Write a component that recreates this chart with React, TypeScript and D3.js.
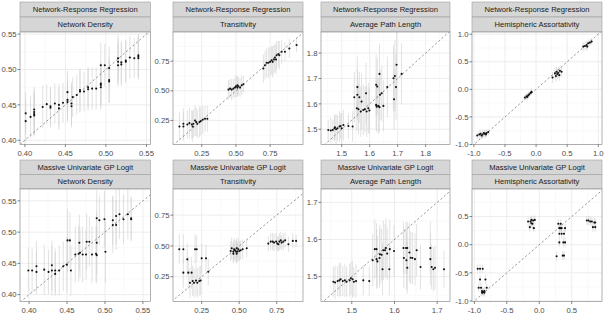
import React from "react";
import * as d3 from "d3";

// [x, y, half-width of interval]
type Pt = [number, number, number];

const methods = ["Network-Response Regression", "Massive Univariate GP Logit"];
const metrics = ["Network Density", "Transitivity", "Average Path Length", "Hemispheric Assortativity"];

const densityTicks = [0.4, 0.45, 0.5, 0.55];
const transTicks = [0.25, 0.5, 0.75];
const aplTicksTop = [1.5, 1.6, 1.7, 1.8];
const aplTicksBottom = [1.5, 1.6, 1.7];
const assortTicksTop = [-1, -0.5, 0, 0.5, 1];
const assortTicksBottom = [-1, -0.5, 0, 0.5];

const ndNrr: Pt[] = [
  [0.401, 0.438, 0.03], [0.401, 0.427, 0.03], [0.407, 0.433, 0.03], [0.4115, 0.4435, 0.032],
  [0.4115, 0.44, 0.032], [0.4115, 0.437, 0.03], [0.4115, 0.435, 0.03], [0.422, 0.447, 0.03],
  [0.427, 0.451, 0.028], [0.4316, 0.448, 0.028], [0.4316, 0.446, 0.028], [0.437, 0.452, 0.028],
  [0.442, 0.45, 0.03], [0.442, 0.445, 0.03], [0.447, 0.453, 0.028], [0.4526, 0.457, 0.03],
  [0.4526, 0.454, 0.028], [0.4526, 0.468, 0.03], [0.4575, 0.452, 0.03], [0.4575, 0.448, 0.03],
  [0.459, 0.461, 0.028], [0.464, 0.464, 0.028], [0.468, 0.469, 0.03], [0.468, 0.471, 0.03],
  [0.473, 0.469, 0.028], [0.478, 0.472, 0.03], [0.478, 0.475, 0.028], [0.483, 0.473, 0.03],
  [0.488, 0.473, 0.03], [0.4937, 0.475, 0.032], [0.4937, 0.478, 0.03], [0.4937, 0.48, 0.03],
  [0.4937, 0.506, 0.032], [0.4986, 0.506, 0.03], [0.504, 0.502, 0.03], [0.504, 0.485, 0.032],
  [0.504, 0.483, 0.03], [0.515, 0.511, 0.032], [0.515, 0.506, 0.03], [0.515, 0.516, 0.032],
  [0.519, 0.51, 0.03], [0.519, 0.507, 0.03], [0.5245, 0.511, 0.03], [0.5245, 0.5125, 0.03],
  [0.5295, 0.517, 0.03], [0.535, 0.516, 0.028], [0.54, 0.518, 0.03], [0.54, 0.52, 0.03],
  [0.54, 0.516, 0.03],
];

const trNrr: Pt[] = [
  [0.087, 0.199, 0.12], [0.116, 0.199, 0.12], [0.116, 0.222, 0.13], [0.145, 0.216, 0.12],
  [0.16, 0.227, 0.13], [0.177, 0.216, 0.12], [0.184, 0.199, 0.13], [0.189, 0.222, 0.12],
  [0.201, 0.25, 0.13], [0.209, 0.236, 0.12], [0.218, 0.222, 0.12], [0.233, 0.236, 0.13],
  [0.243, 0.244, 0.12], [0.257, 0.256, 0.12], [0.274, 0.264, 0.11], [0.291, 0.264, 0.11],
  [0.445, 0.51, 0.08], [0.457, 0.518, 0.08], [0.469, 0.51, 0.09], [0.481, 0.518, 0.08],
  [0.493, 0.527, 0.08], [0.5, 0.538, 0.09], [0.51, 0.527, 0.08], [0.518, 0.538, 0.08],
  [0.53, 0.527, 0.08], [0.542, 0.547, 0.08], [0.554, 0.555, 0.07], [0.51, 0.547, 0.08],
  [0.7, 0.688, 0.12], [0.712, 0.716, 0.12], [0.724, 0.736, 0.12], [0.737, 0.736, 0.13],
  [0.749, 0.744, 0.12], [0.761, 0.758, 0.12], [0.768, 0.744, 0.13], [0.778, 0.764, 0.12],
  [0.785, 0.781, 0.12], [0.793, 0.764, 0.12], [0.797, 0.8, 0.12], [0.81, 0.81, 0.11],
  [0.817, 0.8, 0.12], [0.834, 0.829, 0.1], [0.858, 0.829, 0.08], [0.89, 0.857, 0.08],
  [0.943, 0.886, 0.06],
];

const aplNrr: Pt[] = [
  [1.452, 1.497, 0.04], [1.461, 1.495, 0.05], [1.468, 1.497, 0.04], [1.474, 1.504, 0.05],
  [1.476, 1.508, 0.05], [1.48, 1.5, 0.06], [1.485, 1.504, 0.05], [1.492, 1.511, 0.06],
  [1.496, 1.513, 0.05], [1.5, 1.504, 0.06], [1.506, 1.517, 0.06], [1.524, 1.513, 0.05],
  [1.539, 1.511, 0.06],
  [1.545, 1.626, 0.1], [1.556, 1.666, 0.12], [1.556, 1.636, 0.1], [1.563, 1.626, 0.1],
  [1.554, 1.583, 0.09], [1.56, 1.579, 0.1], [1.571, 1.609, 0.11], [1.568, 1.57, 0.1],
  [1.577, 1.576, 0.1], [1.583, 1.579, 0.09], [1.587, 1.642, 0.12], [1.589, 1.57, 0.1],
  [1.595, 1.583, 0.1], [1.599, 1.574, 0.09],
  [1.623, 1.675, 0.12], [1.627, 1.668, 0.11], [1.635, 1.718, 0.12], [1.637, 1.636, 0.1],
  [1.643, 1.642, 0.11], [1.623, 1.596, 0.1], [1.625, 1.589, 0.1], [1.631, 1.592, 0.11],
  [1.635, 1.587, 0.1], [1.649, 1.592, 0.1], [1.663, 1.666, 0.12], [1.685, 1.701, 0.13],
  [1.687, 1.618, 0.12], [1.69, 1.71, 0.14], [1.694, 1.666, 0.13], [1.696, 1.754, 0.14],
  [1.714, 1.718, 0.12],
];

const haNrr: Pt[] = [
  [-0.946, -0.836, 0.07], [-0.914, -0.818, 0.08], [-0.893, -0.806, 0.07], [-0.861, -0.818, 0.08],
  [-0.839, -0.793, 0.07], [-0.823, -0.806, 0.08], [-0.796, -0.793, 0.07], [-0.769, -0.775, 0.06],
  [-0.877, -0.836, 0.07], [-0.807, -0.818, 0.07],
  [-0.18, -0.149, 0.06], [-0.153, -0.125, 0.06], [-0.126, -0.106, 0.06], [-0.11, -0.088, 0.05],
  [-0.088, -0.064, 0.06], [-0.072, -0.046, 0.05], [-0.142, -0.137, 0.06],
  [0.265, 0.216, 0.1], [0.303, 0.289, 0.1], [0.33, 0.319, 0.09], [0.357, 0.301, 0.1],
  [0.383, 0.337, 0.09], [0.341, 0.277, 0.1], [0.41, 0.319, 0.09], [0.373, 0.258, 0.1],
  [0.319, 0.24, 0.1],
  [0.759, 0.775, 0.08], [0.786, 0.787, 0.08], [0.812, 0.805, 0.08], [0.839, 0.836, 0.07],
  [0.866, 0.848, 0.07], [0.893, 0.866, 0.06], [0.823, 0.775, 0.08],
];

const ndGp: Pt[] = [
  [0.399, 0.4386, 0.035], [0.404, 0.4386, 0.035], [0.4097, 0.4455, 0.04], [0.4097, 0.4364, 0.035],
  [0.4199, 0.44, 0.04], [0.4256, 0.4364, 0.035], [0.43, 0.4386, 0.04], [0.43, 0.4471, 0.04],
  [0.4344, 0.4386, 0.035], [0.4344, 0.4332, 0.035], [0.4397, 0.4386, 0.04], [0.445, 0.4455, 0.04],
  [0.4498, 0.448, 0.045], [0.4507, 0.4868, 0.05], [0.4538, 0.4868, 0.045], [0.4551, 0.4386, 0.04],
  [0.4609, 0.4643, 0.045], [0.4653, 0.4653, 0.045], [0.4662, 0.483, 0.045], [0.4671, 0.467, 0.04],
  [0.4706, 0.4643, 0.045], [0.475, 0.4643, 0.04], [0.4759, 0.4846, 0.045], [0.4794, 0.4846, 0.04],
  [0.4829, 0.4643, 0.045], [0.4882, 0.4653, 0.045], [0.4891, 0.483, 0.05], [0.4891, 0.4632, 0.045],
  [0.4891, 0.5221, 0.045], [0.4926, 0.5189, 0.04], [0.4993, 0.5205, 0.045], [0.5006, 0.4686, 0.05],
  [0.5103, 0.5189, 0.04], [0.5103, 0.5114, 0.045], [0.5147, 0.5114, 0.04], [0.5147, 0.5259, 0.045],
  [0.5191, 0.5286, 0.04], [0.5244, 0.5205, 0.04], [0.5301, 0.5286, 0.04], [0.5345, 0.5221, 0.035],
  [0.5345, 0.5205, 0.035],
];

const trGp: Pt[] = [
  [0.101, 0.473, 0.12], [0.128, 0.473, 0.12], [0.154, 0.391, 0.13], [0.128, 0.283, 0.12],
  [0.161, 0.283, 0.13], [0.172, 0.201, 0.12], [0.183, 0.283, 0.13], [0.19, 0.215, 0.12],
  [0.199, 0.201, 0.12], [0.206, 0.473, 0.12], [0.217, 0.473, 0.11], [0.212, 0.22, 0.13],
  [0.221, 0.201, 0.12], [0.234, 0.215, 0.12], [0.243, 0.22, 0.12], [0.25, 0.399, 0.12],
  [0.279, 0.399, 0.11], [0.294, 0.291, 0.11],
  [0.443, 0.459, 0.08], [0.45, 0.481, 0.09], [0.461, 0.454, 0.08], [0.466, 0.473, 0.09],
  [0.472, 0.465, 0.08], [0.479, 0.454, 0.09], [0.483, 0.481, 0.08], [0.488, 0.454, 0.08],
  [0.494, 0.473, 0.09], [0.501, 0.459, 0.08], [0.51, 0.465, 0.08], [0.523, 0.473, 0.08],
  [0.55, 0.481, 0.07], [0.483, 0.4375, 0.08], [0.461, 0.4375, 0.08],
  [0.694, 0.519, 0.06], [0.71, 0.535, 0.07], [0.723, 0.535, 0.07], [0.732, 0.527, 0.07],
  [0.746, 0.535, 0.07], [0.754, 0.519, 0.06], [0.768, 0.535, 0.07], [0.777, 0.546, 0.07],
  [0.783, 0.527, 0.06], [0.794, 0.535, 0.07], [0.806, 0.546, 0.06], [0.828, 0.514, 0.06],
  [0.857, 0.541, 0.06], [0.879, 0.541, 0.05], [0.761, 0.514, 0.06],
];

const aplGp: Pt[] = [
  [1.457, 1.486, 0.04], [1.461, 1.484, 0.045], [1.467, 1.488, 0.04], [1.471, 1.49, 0.045],
  [1.474, 1.493, 0.045], [1.479, 1.488, 0.04], [1.484, 1.49, 0.045], [1.488, 1.486, 0.04],
  [1.495, 1.49, 0.045], [1.498, 1.4955, 0.045], [1.502, 1.493, 0.05], [1.505, 1.486, 0.04],
  [1.51, 1.488, 0.045], [1.527, 1.49, 0.04], [1.541, 1.488, 0.04],
  [1.549, 1.544, 0.07], [1.554, 1.574, 0.08], [1.558, 1.574, 0.07], [1.558, 1.547, 0.08],
  [1.56, 1.541, 0.07], [1.565, 1.55, 0.08], [1.566, 1.56, 0.08], [1.57, 1.559, 0.07],
  [1.572, 1.52, 0.07], [1.574, 1.571, 0.08], [1.578, 1.571, 0.07], [1.58, 1.577, 0.08],
  [1.583, 1.562, 0.07], [1.588, 1.52, 0.07], [1.589, 1.574, 0.08], [1.599, 1.569, 0.07],
  [1.621, 1.577, 0.07], [1.622, 1.55, 0.08], [1.627, 1.577, 0.07], [1.628, 1.544, 0.08],
  [1.63, 1.577, 0.07], [1.63, 1.524, 0.07], [1.635, 1.565, 0.08], [1.638, 1.551, 0.07],
  [1.642, 1.55, 0.07], [1.648, 1.547, 0.07], [1.652, 1.571, 0.07], [1.661, 1.526, 0.06],
  [1.684, 1.577, 0.07], [1.684, 1.547, 0.07], [1.687, 1.526, 0.06], [1.691, 1.52, 0.06],
  [1.695, 1.524, 0.06], [1.716, 1.52, 0.05],
];

const haGp: Pt[] = [
  [-0.948, -0.429, 0.08], [-0.912, -0.429, 0.08], [-0.871, -0.429, 0.08], [-0.912, -0.618, 0.08],
  [-0.933, -0.765, 0.08], [-0.897, -0.765, 0.08], [-0.881, -0.824, 0.07], [-0.86, -0.841, 0.07],
  [-0.845, -0.824, 0.07], [-0.881, -0.853, 0.07], [-0.829, -0.618, 0.08], [-0.809, -0.765, 0.07],
  [-0.845, -0.853, 0.07],
  [-0.172, 0.412, 0.08], [-0.146, 0.312, 0.08], [-0.136, 0.412, 0.08], [-0.121, 0.441, 0.08],
  [-0.105, 0.371, 0.08], [-0.095, 0.429, 0.08], [-0.084, 0.294, 0.07], [-0.069, 0.441, 0.08],
  [-0.121, 0.382, 0.08],
  [0.267, -0.206, 0.08], [0.293, 0.371, 0.08], [0.309, 0.294, 0.08], [0.309, 0.194, 0.08],
  [0.309, 0.041, 0.08], [0.33, 0.371, 0.08], [0.345, 0.194, 0.08], [0.345, 0.294, 0.08],
  [0.361, -0.194, 0.08], [0.371, 0.041, 0.08], [0.381, 0.194, 0.08], [0.381, -0.194, 0.08],
  [0.397, 0.294, 0.08], [0.397, 0.041, 0.08], [0.33, 0.294, 0.08],
  [0.733, 0.429, 0.08], [0.759, 0.429, 0.08], [0.785, 0.412, 0.08], [0.81, 0.412, 0.08],
  [0.826, 0.312, 0.08], [0.847, 0.394, 0.08], [0.862, 0.312, 0.08], [0.862, 0.394, 0.08],
];

const FONT = "'Liberation Sans', Arial, Helvetica, sans-serif";
const colX = [[20, 150.5], [173, 303], [321, 450], [472, 602]];
const rowY = [{ strip: 2, top: 32, bottom: 144.5 }, { strip: 160, top: 189, bottom: 301.5 }];

const fmt = (spec: string) => (v: number) => d3.format(spec)(v).replace("\u2212", "-");

interface PanelSpec {
  row: number;
  col: number;
  data: Pt[];
  xd: [number, number];
  yd: [number, number];
  xt: number[];
  yt: number[];
  f: (v: number) => string;
}

const panels: PanelSpec[] = [
  { row: 0, col: 0, data: ndNrr, xd: [0.394, 0.555], yd: [0.394, 0.553], xt: densityTicks, yt: densityTicks, f: fmt(".2f") },
  { row: 0, col: 1, data: trNrr, xd: [0.04, 0.99], yd: [0.047, 0.996], xt: transTicks, yt: transTicks, f: fmt(".2f") },
  { row: 0, col: 2, data: aplNrr, xd: [1.426, 1.887], yd: [1.44, 1.883], xt: aplTicksTop, yt: aplTicksTop, f: fmt(".1f") },
  { row: 0, col: 3, data: haNrr, xd: [-1.03, 1.06], yd: [-1.0, 1.04], xt: assortTicksTop, yt: assortTicksTop, f: fmt(".1f") },
  { row: 1, col: 0, data: ndGp, xd: [0.388, 0.56], yd: [0.389, 0.569], xt: densityTicks, yt: densityTicks, f: fmt(".2f") },
  { row: 1, col: 1, data: trGp, xd: [0.059, 0.925], yd: [0.049, 0.962], xt: transTicks, yt: transTicks, f: fmt(".2f") },
  { row: 1, col: 2, data: aplGp, xd: [1.428, 1.73], yd: [1.433, 1.736], xt: aplTicksBottom, yt: aplTicksBottom, f: fmt(".1f") },
  { row: 1, col: 3, data: haGp, xd: [-1.036, 0.966], yd: [-1.01, 0.99], xt: assortTicksBottom, yt: assortTicksBottom, f: fmt(".1f") },
];

// minor breaks halfway between majors, extended past the ends while inside the limits
function minors(ticks: number[], dom: [number, number]) {
  const step = ticks[1] - ticks[0];
  const out: number[] = [];
  for (let v = ticks[0] - step / 2; v <= dom[1]; v += step) {
    if (v >= dom[0]) out.push(v);
  }
  return out;
}

const Panel = ({ p, idx }: { p: PanelSpec; idx: number }) => {
  const [x0, x1] = colX[p.col];
  const r = rowY[p.row];
  const x = d3.scaleLinear().domain(p.xd).range([x0, x1]);
  const y = d3.scaleLinear().domain(p.yd).range([r.bottom, r.top]);
  const sh = (r.top - r.strip) / 2;
  const lo = Math.min(p.xd[0], p.yd[0]);
  const hi = Math.max(p.xd[1], p.yd[1]);
  const clip = `clip-${idx}`;
  const w = x1 - x0;

  return (
    <g>
      <defs>
        <clipPath id={clip}>
          <rect x={x0} y={r.top} width={w} height={r.bottom - r.top} />
        </clipPath>
      </defs>
      {[methods[p.row], metrics[p.col]].map((label, i) => (
        <g key={i}>
          <rect x={x0} y={r.strip + i * sh} width={w} height={sh} fill="#d6d6d6" stroke="#9e9e9e" strokeWidth={0.6} />
          <text x={(x0 + x1) / 2} y={r.strip + i * sh + sh / 2} dy="0.36em" textAnchor="middle"
            fontSize={7.6} fill="#1a1a1a" fontFamily={FONT}>{label}</text>
        </g>
      ))}
      <rect x={x0} y={r.top} width={w} height={r.bottom - r.top} fill="#ffffff" />
      <g clipPath={`url(#${clip})`}>
        {minors(p.xt, p.xd).map((v, i) => (
          <line key={`mx${i}`} x1={x(v)} x2={x(v)} y1={r.top} y2={r.bottom} stroke="#f2f2f2" strokeWidth={0.5} />
        ))}
        {minors(p.yt, p.yd).map((v, i) => (
          <line key={`my${i}`} x1={x0} x2={x1} y1={y(v)} y2={y(v)} stroke="#f2f2f2" strokeWidth={0.5} />
        ))}
        {p.xt.map((v, i) => (
          <line key={`gx${i}`} x1={x(v)} x2={x(v)} y1={r.top} y2={r.bottom} stroke="#ebebeb" strokeWidth={0.9} />
        ))}
        {p.yt.map((v, i) => (
          <line key={`gy${i}`} x1={x0} x2={x1} y1={y(v)} y2={y(v)} stroke="#ebebeb" strokeWidth={0.9} />
        ))}
        {p.data.map((d, i) => (
          <line key={`e${i}`} x1={x(d[0])} x2={x(d[0])} y1={y(d[1] - d[2])} y2={y(d[1] + d[2])}
            stroke="#cfcfcf" strokeWidth={0.8} strokeOpacity={0.75} />
        ))}
        <line x1={x(lo)} y1={y(lo)} x2={x(hi)} y2={y(hi)} stroke="#444" strokeWidth={0.55} strokeDasharray="2.2,2.2" />
        {p.data.map((d, i) => (
          <circle key={`p${i}`} cx={x(d[0])} cy={y(d[1])} r={1.05} fill="#111" />
        ))}
      </g>
      <rect x={x0} y={r.top} width={w} height={r.bottom - r.top} fill="none" stroke="#8f8f8f" strokeWidth={0.7} />
      {p.xt.map((v, i) => (
        <g key={`tx${i}`}>
          <line x1={x(v)} x2={x(v)} y1={r.bottom} y2={r.bottom + 2.5} stroke="#333" strokeWidth={0.6} />
          <text x={x(v)} y={r.bottom + 11} textAnchor="middle" fontSize={7.7} fill="#4d4d4d" fontFamily={FONT}>{p.f(v)}</text>
        </g>
      ))}
      {p.yt.map((v, i) => (
        <g key={`ty${i}`}>
          <line x1={x0 - 2.5} x2={x0} y1={y(v)} y2={y(v)} stroke="#333" strokeWidth={0.6} />
          <text x={x0 - 3.5} y={y(v)} dy="0.35em" textAnchor="end" fontSize={7.7} fill="#4d4d4d" fontFamily={FONT}>{p.f(v)}</text>
        </g>
      ))}
    </g>
  );
};

export default function App() {
  return (
    <svg width={606} height={314} style={{ position: "absolute", left: 0, top: 0, background: "#fff" }}>
      <rect width={606} height={314} fill="#fff" />
      {panels.map((p, i) => <Panel key={i} p={p} idx={i} />)}
    </svg>
  );
}
